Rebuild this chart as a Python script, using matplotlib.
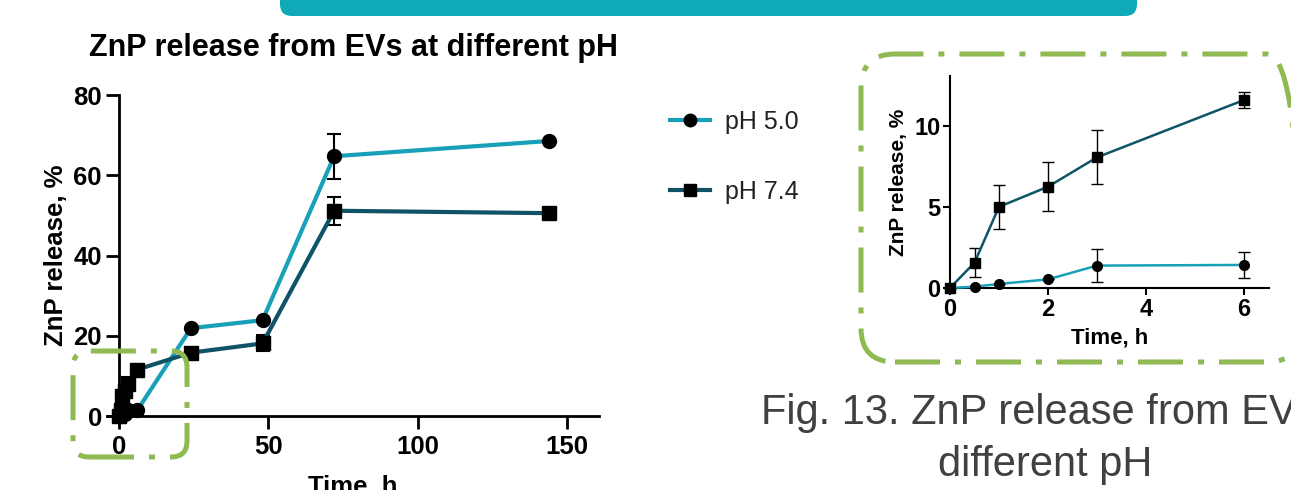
import numpy as np
import matplotlib
matplotlib.use("Agg")
import matplotlib.pyplot as plt
from matplotlib.patches import FancyBboxPatch
from matplotlib.lines import Line2D
from matplotlib.transforms import IdentityTransform

plt.rcParams['font.family'] = ['Liberation Sans', 'DejaVu Sans']

# data
time_h = [0, 0.5, 1, 2, 3, 6, 24, 48, 72, 144]
ph50 = [0, 0.08, 0.25, 0.53, 1.38, 1.42, 21.9, 23.9, 64.8, 68.6]
ph50_err = [0, 0, 0, 0, 1.0, 0.82, 0, 0, 5.6, 0]
ph74 = [0, 1.56, 5.0, 6.24, 8.05, 11.58, 15.8, 18.1, 51.2, 50.6]
ph74_err = [0, 0.9, 1.35, 1.5, 1.67, 0.5, 0, 2.0, 3.5, 0]
series_labels = ['pH 5.0', 'pH 7.4']

inset_n = 6  # first six time points (0..6 h)

c50 = '#17a0b8'
c74 = '#0f5466'
green = '#8fba52'

W, H = 1291, 490
fig = plt.figure(figsize=(W / 100, H / 100), dpi=100)


def px_axes(x0, x1, ytop, ybot):
    return fig.add_axes([x0 / W, (H - ybot) / H, (x1 - x0) / W, (ybot - ytop) / H])


def style_axes(ax, lw, tlen, fsize, pad):
    for s in ['top', 'right']:
        ax.spines[s].set_visible(False)
    ax.spines['left'].set_linewidth(lw)
    ax.spines['bottom'].set_linewidth(lw)
    ax.spines['left'].set_position(('data', 0))
    ax.tick_params(width=lw, length=tlen, labelsize=fsize, pad=pad, colors='black')
    for t in ax.get_xticklabels() + ax.get_yticklabels():
        t.set_fontweight('bold')


# ---- main chart ----
ax = px_axes(107.4, 599, 95.3, 416)
ax.errorbar(time_h, ph50, yerr=ph50_err, color=c50, lw=3, marker='o', ms=10,
            mfc='black', mec='black', ecolor='black', elinewidth=1.5, capsize=5,
            capthick=1.5, clip_on=False, zorder=3)
ax.errorbar(time_h, ph74, yerr=ph74_err, color=c74, lw=3, marker='s', ms=10,
            mfc='black', mec='black', ecolor='black', elinewidth=1.5, capsize=5,
            capthick=1.5, clip_on=False, zorder=3)
ax.set_xlim(-4, 160.8)
ax.set_ylim(0, 80)
ax.set_xticks([0, 50, 100, 150])
ax.set_yticks([0, 20, 40, 60, 80])
style_axes(ax, 2.0, 9.5, 18.5, 3)
ax.tick_params(axis='x', pad=4)
ax.set_ylabel('ZnP release, %', fontsize=18.5, fontweight='bold', labelpad=4)
ax.set_xlabel('Time, h', fontsize=18.5, fontweight='bold', labelpad=12)
ax.set_title('ZnP release from EVs at different pH', fontsize=22, fontweight='bold', pad=28)

# ---- legend ----
h50 = Line2D([], [], color=c50, lw=3, marker='o', ms=9, mfc='black', mec='black')
h74 = Line2D([], [], color=c74, lw=3, marker='s', ms=9, mfc='black', mec='black')
leg = fig.legend([h50, h74], series_labels, loc='upper left',
                 bbox_to_anchor=(660 / W, 1 - 100 / H), frameon=False,
                 fontsize=18, handlelength=1.6, handletextpad=0.6, labelspacing=1.85,
                 borderaxespad=0)
for t in leg.get_texts():
    t.set_color('#222222')

# ---- inset chart ----
ax2 = px_axes(950, 1269, 76, 288)
ax2.errorbar(time_h[:inset_n], ph50[:inset_n], yerr=ph50_err[:inset_n], color=c50, lw=1.8,
             marker='o', ms=7, mfc='black', mec='black', ecolor='black', elinewidth=1,
             capsize=4, capthick=1, clip_on=False, zorder=3)
ax2.errorbar(time_h[:inset_n], ph74[:inset_n], yerr=ph74_err[:inset_n], color=c74, lw=1.8,
             marker='s', ms=7, mfc='black', mec='black', ecolor='black', elinewidth=1,
             capsize=4, capthick=1, clip_on=False, zorder=3)
ax2.set_xlim(0, 6.51)
ax2.set_ylim(0, 13.06)
ax2.set_xticks([0, 2, 4, 6])
ax2.set_yticks([0, 5, 10])
style_axes(ax2, 1.5, 5, 17, 2)
ax2.set_ylabel('ZnP release, %', fontsize=15, fontweight='bold', labelpad=4)
ax2.set_xlabel('Time, h', fontsize=16, fontweight='bold', labelpad=5)

# ---- slide decorations ----
ident = IdentityTransform()
banner = FancyBboxPatch((280, H - 16), 857, 40, boxstyle='round,pad=0,rounding_size=12',
                        transform=ident, fc='#10a9b8', ec='none')
fig.patches.append(banner)

dashdot = (0, (9, 3, 1.2, 3))
box_right = FancyBboxPatch((861, H - 362), 440, 308, boxstyle='round,pad=0,rounding_size=34',
                           transform=ident, fc='none', ec=green, lw=3.6, linestyle=dashdot)
fig.patches.append(box_right)
box_left = FancyBboxPatch((73, H - 457), 114, 106, boxstyle='round,pad=0,rounding_size=16',
                          transform=ident, fc='none', ec=green, lw=3.6, linestyle=dashdot,
                          zorder=5)
fig.patches.append(box_left)

fig.text(761 / W, 1 - 413 / H, 'Fig. 13. ZnP release from EVs at', fontsize=30,
         color='#404040', ha='left', va='center')
fig.text(1045 / W, 1 - 465 / H, 'different pH', fontsize=30,
         color='#404040', ha='center', va='center')

fig.savefig('out.png', dpi=100)
